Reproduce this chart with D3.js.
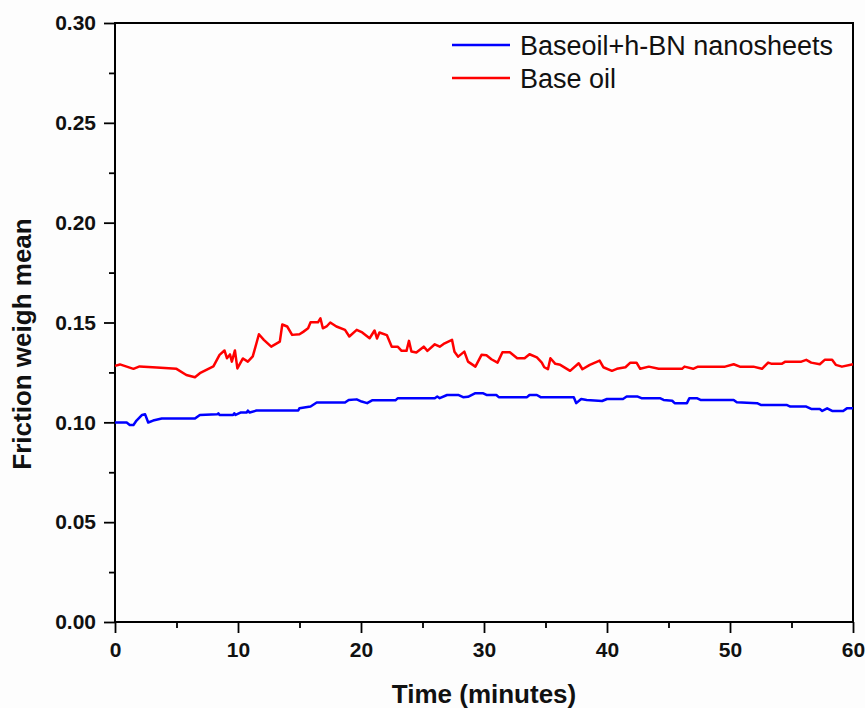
<!DOCTYPE html>
<html>
<head>
<meta charset="utf-8">
<script src="https://cdn.jsdelivr.net/npm/d3@7"></script>
<style>
  html, body { margin:0; padding:0; background:#fdfdfd; }
  svg { display:block; font-family:"Liberation Sans", Arial, sans-serif; }
  .tick text { font-weight:bold; font-size:21px; fill:#111; }
</style>
</head>
<body>
<svg id="chart" width="865" height="708"></svg>
<script>
// time (min) and friction coefficient
const BN_T = [0,0.95,1.2,1.5,1.75,2.2,2.45,2.7,3.1,3.8,6.5,6.9,8.3,8.4,8.5,9.6,9.7,9.8,10.2,10.7,10.8,10.95,11.5,14.9,15.0,15.9,16.4,18.7,19.0,19.65,20.05,20.5,20.9,22.8,23.0,26.0,26.2,26.4,27.0,27.9,28.3,28.7,29.3,29.9,30.2,31.0,31.2,33.5,33.7,34.3,34.6,37.3,37.5,37.9,38.35,39.6,40.0,41.3,41.6,42.5,42.8,44.3,44.6,45.3,45.5,46.5,46.7,47.3,47.6,50.3,50.55,52.2,52.5,54.6,54.9,56.2,56.6,57.3,57.5,57.9,58.3,59.2,59.5,60];
const BN_V = [0.0999,0.0999,0.0987,0.0987,0.1009,0.1037,0.1040,0.0999,0.1009,0.1019,0.1019,0.1037,0.1040,0.1045,0.1037,0.1037,0.1045,0.1037,0.1049,0.1049,0.1059,0.1049,0.1059,0.1059,0.1071,0.1079,0.1099,0.1099,0.1112,0.1115,0.1104,0.1096,0.1110,0.1110,0.1121,0.1121,0.1129,0.1121,0.1137,0.1137,0.1126,0.1128,0.1146,0.1146,0.1137,0.1137,0.1126,0.1126,0.1137,0.1137,0.1126,0.1126,0.1096,0.1117,0.1112,0.1107,0.1117,0.1117,0.1129,0.1129,0.1121,0.1121,0.1112,0.1108,0.1096,0.1096,0.1121,0.1121,0.1112,0.1112,0.1101,0.1096,0.1087,0.1087,0.1079,0.1079,0.1067,0.1067,0.1057,0.1070,0.1057,0.1057,0.1070,0.1070];

const OIL_T = [0,0.4,1.5,2.0,3.4,5.0,5.8,6.5,6.9,8.0,8.5,8.9,9.1,9.35,9.5,9.75,9.95,10.4,10.8,11.2,11.5,11.7,12.1,12.7,13.4,13.6,14.0,14.4,15.0,15.3,15.7,15.9,16.5,16.7,16.9,17.2,17.5,18.0,18.7,19.05,19.65,20.1,20.7,21.1,21.3,21.5,22.1,22.5,23.0,23.3,23.7,23.9,24.1,24.5,25.1,25.4,26.0,26.4,26.8,27.4,27.6,27.9,28.4,28.7,29.3,29.8,30.2,30.6,31.1,31.5,32.1,32.7,33.3,33.7,34.3,34.7,34.9,35.2,35.4,35.8,36.2,37.0,37.7,38.0,38.6,39.4,39.7,40.4,40.8,41.5,41.9,42.4,42.7,43.4,44.2,46.1,46.3,47.0,47.4,49.6,50.3,50.8,51.9,52.6,53.1,53.4,54.2,54.5,55.8,56.2,56.6,57.3,57.7,58.3,58.6,59.1,60];
const OIL_V = [0.1283,0.1290,0.1268,0.1280,0.1275,0.1268,0.1237,0.1226,0.1246,0.1280,0.1338,0.1360,0.1321,0.1340,0.1304,0.1360,0.1270,0.1320,0.1304,0.1330,0.1396,0.1441,0.1413,0.1379,0.1404,0.1490,0.1480,0.1438,0.1441,0.1453,0.1471,0.1501,0.1501,0.1521,0.1471,0.1480,0.1500,0.1480,0.1463,0.1430,0.1463,0.1450,0.1421,0.1460,0.1420,0.1450,0.1437,0.1379,0.1378,0.1358,0.1358,0.1408,0.1355,0.1350,0.1379,0.1358,0.1391,0.1379,0.1396,0.1413,0.1354,0.1329,0.1354,0.1304,0.1279,0.1338,0.1336,0.1316,0.1299,0.1351,0.1351,0.1321,0.1321,0.1341,0.1325,0.1299,0.1276,0.1266,0.1321,0.1293,0.1288,0.1258,0.1296,0.1266,0.1288,0.1309,0.1276,0.1258,0.1268,0.1276,0.1299,0.1299,0.1268,0.1279,0.1268,0.1268,0.1279,0.1268,0.1279,0.1279,0.1291,0.1279,0.1279,0.1268,0.1299,0.1293,0.1293,0.1304,0.1304,0.1313,0.1299,0.1291,0.1313,0.1313,0.1288,0.1279,0.1291];

const X_TICKS = [0,10,20,30,40,50,60];
const X_MINOR = [5,15,25,35,45,55];
const Y_TICKS = [0,0.05,0.10,0.15,0.20,0.25,0.30];
const Y_MINOR = [0.025,0.075,0.125,0.175,0.225,0.275];

const SERIES = [
  {name:'Baseoil+h-BN nanosheets', color:'#0000ff', t:BN_T, v:BN_V},
  {name:'Base oil', color:'#ff0000', t:OIL_T, v:OIL_V},
];

const m = {left:115, right:12, top:23, bottom:86};
const W = 865, H = 708;
const iw = W - m.left - m.right, ih = H - m.top - m.bottom;

const svg = d3.select('#chart');
const g = svg.append('g').attr('transform', `translate(${m.left},${m.top})`);

const x = d3.scaleLinear().domain([0,60]).range([0,iw]);
const y = d3.scaleLinear().domain([0,0.30]).range([ih,0]);

// minor ticks first, majors on top
g.append('g').attr('transform',`translate(0,${ih})`)
  .call(d3.axisBottom(x).tickValues(X_MINOR).tickSize(6).tickFormat(''))
  .call(a => a.select('.domain').remove())
  .selectAll('line').attr('stroke','#000').attr('stroke-width',1.8);
g.append('g')
  .call(d3.axisLeft(y).tickValues(Y_MINOR).tickSize(6).tickFormat(''))
  .call(a => a.select('.domain').remove())
  .selectAll('line').attr('stroke','#000').attr('stroke-width',1.8);

const xa = g.append('g').attr('transform',`translate(0,${ih})`)
  .call(d3.axisBottom(x).tickValues(X_TICKS).tickSize(11).tickPadding(9).tickFormat(d3.format('d')));
const ya = g.append('g')
  .call(d3.axisLeft(y).tickValues(Y_TICKS).tickSize(11).tickPadding(8).tickFormat(d3.format('.2f')));
[xa, ya].forEach(a => {
  a.select('.domain').remove();
  a.selectAll('line').attr('stroke','#000').attr('stroke-width',1.8);
});

// frame
g.append('rect').attr('width',iw).attr('height',ih)
  .attr('fill','none').attr('stroke','#000').attr('stroke-width',2);

const line = d3.line().x(d => x(d[0])).y(d => y(d[1]));
SERIES.forEach(s => {
  g.append('path')
    .datum(d3.zip(s.t, s.v))
    .attr('fill','none').attr('stroke',s.color)
    .attr('stroke-width',2.5).attr('stroke-linejoin','round')
    .attr('d', line);
});

// legend
const lg = g.append('g').attr('transform','translate(337,22)');
SERIES.forEach((s,i) => {
  const row = lg.append('g').attr('transform',`translate(0,${i*33})`);
  row.append('line').attr('x1',0).attr('x2',58).attr('stroke',s.color).attr('stroke-width',2.5);
  row.append('text').attr('x',68).attr('y',10).attr('font-size',27).attr('fill','#111').text(s.name);
});

// axis titles
svg.append('text').attr('x', m.left + iw/2).attr('y', 703)
  .attr('text-anchor','middle').attr('font-size',26).attr('font-weight','bold').attr('fill','#111')
  .text('Time (minutes)');
svg.append('text').attr('transform','translate(31,344) rotate(-90)')
  .attr('text-anchor','middle').attr('font-size',26).attr('font-weight','bold').attr('fill','#111')
  .text('Friction weigh mean');
</script>
</body>
</html>
